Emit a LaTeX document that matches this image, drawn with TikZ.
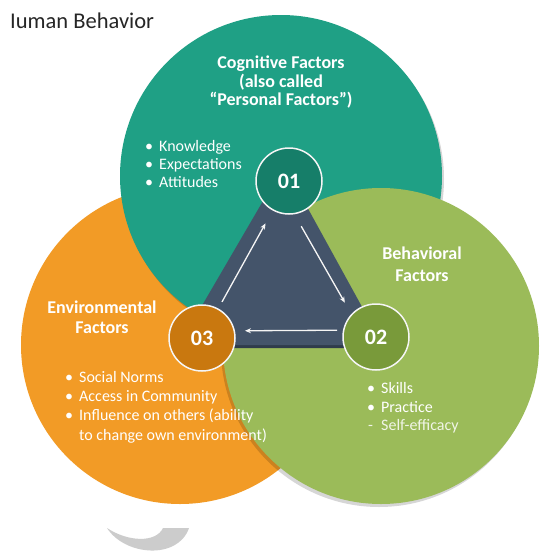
\documentclass[tikz,border=0pt]{standalone}
\usepackage{fontspec}
\setmainfont{Carlito}
\usetikzlibrary{calc,arrows.meta}
\definecolor{tealA}{HTML}{1FA085}
\definecolor{tealB}{HTML}{167E69}
\definecolor{orangeA}{HTML}{F29B26}
\definecolor{orangeB}{HTML}{C9780F}
\definecolor{greenA}{HTML}{9BBB59}
\definecolor{greenB}{HTML}{799A3A}
\definecolor{slateA}{HTML}{44546A}
\definecolor{slateB}{HTML}{2F3B4B}
\definecolor{titleC}{HTML}{262626}
\tikzset{
  head/.style={font=\bfseries\fontsize{18}{20}\selectfont, text=white, inner sep=0pt, anchor=base},
  item/.style={font=\fontsize{16}{18}\selectfont, text=white, inner sep=0pt, anchor=base west},
  num/.style={circle, minimum size=66pt, inner sep=0pt, draw=white!92!gray, line width=1.5pt,
              font=\bfseries\fontsize{22}{22}\selectfont, text=white},
  arr/.style={draw=white!92!gray, line width=1.3pt, -{Stealth[length=6pt,width=5pt]}},
  shade/.style={fill=black, opacity=0.16},
}
\begin{document}
\begin{tikzpicture}[x=1pt,y=-1pt]
\useasboundingbox (0,0) rectangle (539,552);
\fill[white] (0,0) rectangle (539,552);

% watermark fragment
\fill[gray!40] (107,528) .. controls (125,556) and (178,560) .. (189,528)
  -- (163,528) .. controls (156,543) and (128,542) .. cycle;

% big circles
\fill[orangeA] (180,345) circle[radius=159pt];
\fill[shade] (283,179) circle[radius=161pt];
\fill[tealA] (281,176) circle[radius=161pt];
\fill[shade] (379,349) circle[radius=158pt];
\fill[greenA] (381,346) circle[radius=158pt];

% title
\node[anchor=base west, inner sep=0pt, font=\fontsize{22.5}{24}\selectfont, text=titleC] (title) at (10,28) {Iuman Behavior};

% central triangle
\fill[slateB, rounded corners=6pt] (284,168) -- (179,348) -- (383,348) -- cycle;
\fill[slateA, rounded corners=6pt] (284,165) -- (179,345) -- (383,345) -- cycle;

% numbered circles
\node[num, fill=tealB] (c01) at (289,181) {01};
\node[num, fill=greenB] (c02) at (376,337) {02};
\node[num, fill=orangeB] (c03) at (202,338) {03};

% arrows
\draw[arr] ($(c03)!0.23!(c01)$) -- ($(c03)!0.73!(c01)$);
\draw[arr] ($(c01)!0.29!(c02)+(-13,0)$) -- ($(c01)!0.78!(c02)+(-12,0)$);
\draw[arr] ($(c02)!0.224!(c03)+(0,-7)$) -- ($(c02)!0.753!(c03)+(0,-7)$);

% cognitive
\node[head] (h1a) at (281,68) {Cognitive Factors};
\node[head] (h1b) at (281,87) {(also called};
\node[head] (h1c) at (281,105.5) {“Personal Factors”)};
\node[item] (b1a) at (145,151) {•};
\node[item] (t1a) at (159,151) {Knowledge};
\node[item] (b1b) at (145,169) {•};
\node[item] (t1b) at (159,169) {Expectations};
\node[item] (b1c) at (145,187.5) {•};
\node[item] (t1c) at (159,187.5) {Attitudes};

% behavioral
\node[head] (h2a) at (422,259) {Behavioral};
\node[head] (h2b) at (422,281) {Factors};
\node[item] (b2a) at (367,393) {•};
\node[item] (t2a) at (381,393) {Skills};
\node[item] (b2b) at (367,412) {•};
\node[item] (t2b) at (381,412) {Practice};
\node[item, opacity=0.85] (b2c) at (368,430) {-};
\node[item, opacity=0.85] (t2c) at (381,430) {Self-efficacy};

% environmental
\node[head] (h3a) at (102,313) {Environmental};
\node[head] (h3b) at (102,333) {Factors};
\node[item] (b3a) at (65,382) {•};
\node[item] (t3a) at (79,382) {Social Norms};
\node[item] (b3b) at (65,401) {•};
\node[item] (t3b) at (79,401) {Access in Community};
\node[item] (b3c) at (65,420.5) {•};
\node[item] (t3c) at (79,420.5) {Influence on others (ability};
\node[item] (t3d) at (79,440) {to change own environment)};
\end{tikzpicture}
\end{document}
